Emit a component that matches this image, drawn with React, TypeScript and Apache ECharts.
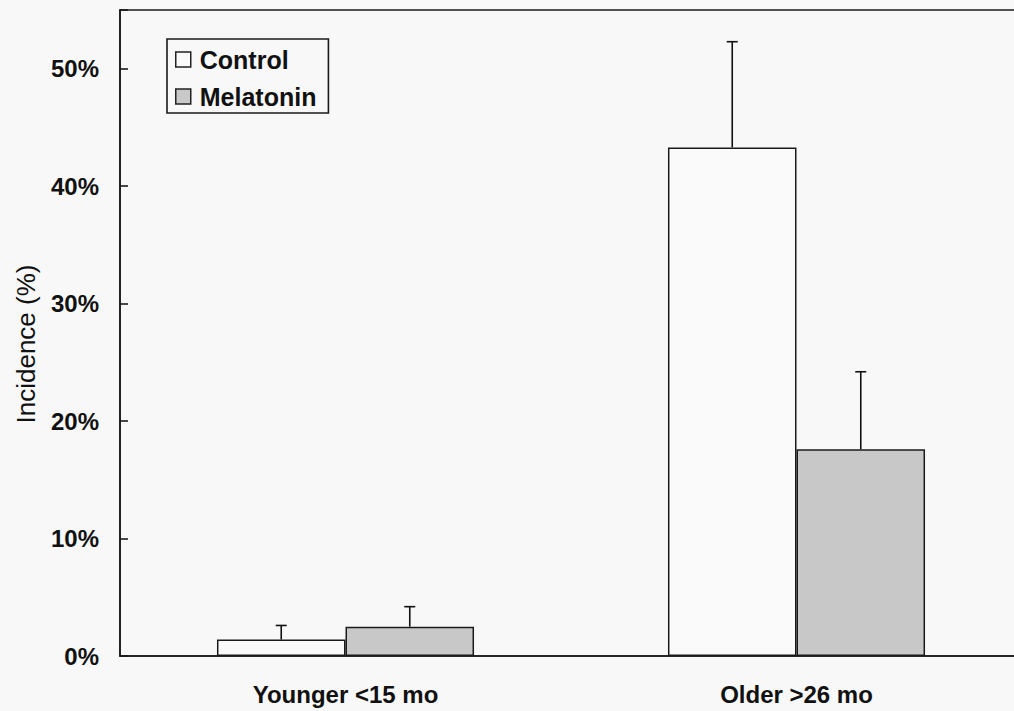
import React, { useEffect, useRef } from "react";
import * as echarts from "echarts";

const categories = ["Younger <15 mo", "Older >26 mo"];
const controlValues = [1.4, 43.3];
const controlErrors = [1.2, 9.0];
const melatoninValues = [2.5, 17.6];
const melatoninErrors = [1.7, 6.6];
const yTicks = { min: 0, max: 55, interval: 10 };

const BAR_FRACTION = 0.285;

function errorSeries(name: string, values: number[], errs: number[], side: number) {
  return {
    name: name + " error",
    type: "custom",
    z: 5,
    silent: true,
    data: values.map((v, i) => [i, v, errs[i]]),
    encode: { x: 0, y: 1 },
    renderItem: (params: any, api: any) => {
      const idx = api.value(0);
      const v = api.value(1);
      const e = api.value(2);
      const band = api.size([1, 0])[0];
      const off = (side * band * BAR_FRACTION) / 2;
      const base = api.coord([idx, v]);
      const top = api.coord([idx, v + e]);
      const x = base[0] + off;
      const style = { stroke: "#111", lineWidth: 1.6 };
      return {
        type: "group",
        children: [
          { type: "line", shape: { x1: x, y1: base[1], x2: x, y2: top[1] }, style },
          { type: "line", shape: { x1: x - 5.5, y1: top[1], x2: x + 5.5, y2: top[1] }, style },
        ],
      };
    },
  };
}

export default function App() {
  const ref = useRef<HTMLDivElement>(null);
  useEffect(() => {
    if (!ref.current) return;
    const chart = echarts.init(ref.current, undefined, { renderer: "svg" });
    const font = "Liberation Sans, Arial, sans-serif";
    chart.setOption({
      animation: false,
      backgroundColor: "#f8f8f8",
      textStyle: { fontFamily: font },
      grid: {
        left: 120,
        right: 8,
        top: 10,
        bottom: 55,
        show: true,
        borderColor: "#1a1a1a",
        borderWidth: 1.6,
        backgroundColor: "transparent",
      },
      legend: {
        orient: "vertical",
        left: 167,
        top: 39,
        padding: [8, 12, 4, 8],
        itemGap: 12,
        itemWidth: 15,
        itemHeight: 15,
        borderColor: "#1a1a1a",
        borderWidth: 1.6,
        backgroundColor: "#f8f8f8",
        icon: "rect",
        textStyle: {
          fontFamily: font,
          fontSize: 25,
          fontWeight: "bold",
          color: "#111",
          padding: [0, 0, 0, 4],
        },
        data: [
          { name: "Control", itemStyle: { color: "#fafafa", borderColor: "#222", borderWidth: 1.5 } },
          { name: "Melatonin", itemStyle: { color: "#c8c8c8", borderColor: "#222", borderWidth: 1.5 } },
        ],
      },
      xAxis: {
        type: "category",
        data: categories,
        axisLine: { lineStyle: { color: "#1a1a1a", width: 1.6 } },
        axisTick: { show: false },
        axisLabel: {
          fontFamily: font,
          fontSize: 24,
          fontWeight: "bold",
          color: "#111",
          margin: 26,
        },
      },
      yAxis: {
        type: "value",
        min: yTicks.min,
        max: yTicks.max,
        interval: yTicks.interval,
        splitLine: { show: false },
        axisLine: { show: true, lineStyle: { color: "#1a1a1a", width: 1.6 } },
        axisTick: { show: true, inside: true, length: 8, lineStyle: { color: "#1a1a1a", width: 1.6 } },
        axisLabel: {
          fontFamily: font,
          fontSize: 24,
          fontWeight: "bold",
          color: "#111",
          margin: 21,
          formatter: (v: number) => (v > 50 ? "" : v + "%"),
        },
      },
      graphic: [
        {
          type: "text",
          x: 26,
          y: 344,
          rotation: Math.PI / 2,
          style: {
            text: "Incidence (%)",
            fontFamily: font,
            fontSize: 26,
            fill: "#111",
            align: "center",
            verticalAlign: "middle",
          },
        },
      ],
      series: [
        {
          name: "Control",
          type: "bar",
          data: controlValues,
          barWidth: BAR_FRACTION * 100 + "%",
          barGap: "0%",
          itemStyle: { color: "#fafafa", borderColor: "#1a1a1a", borderWidth: 1.5 },
        },
        {
          name: "Melatonin",
          type: "bar",
          data: melatoninValues,
          barWidth: BAR_FRACTION * 100 + "%",
          barGap: "0%",
          itemStyle: { color: "#c8c8c8", borderColor: "#1a1a1a", borderWidth: 1.5 },
        },
        errorSeries("Control", controlValues, controlErrors, -1),
        errorSeries("Melatonin", melatoninValues, melatoninErrors, 1),
      ],
    });
    return () => chart.dispose();
  }, []);
  return (
    <div
      style={{
        position: "fixed",
        left: 0,
        top: 0,
        width: 1014,
        height: 711,
        overflow: "hidden",
        background: "#f8f8f8",
      }}
    >
      <div ref={ref} style={{ width: 1030, height: 711 }} />
    </div>
  );
}
